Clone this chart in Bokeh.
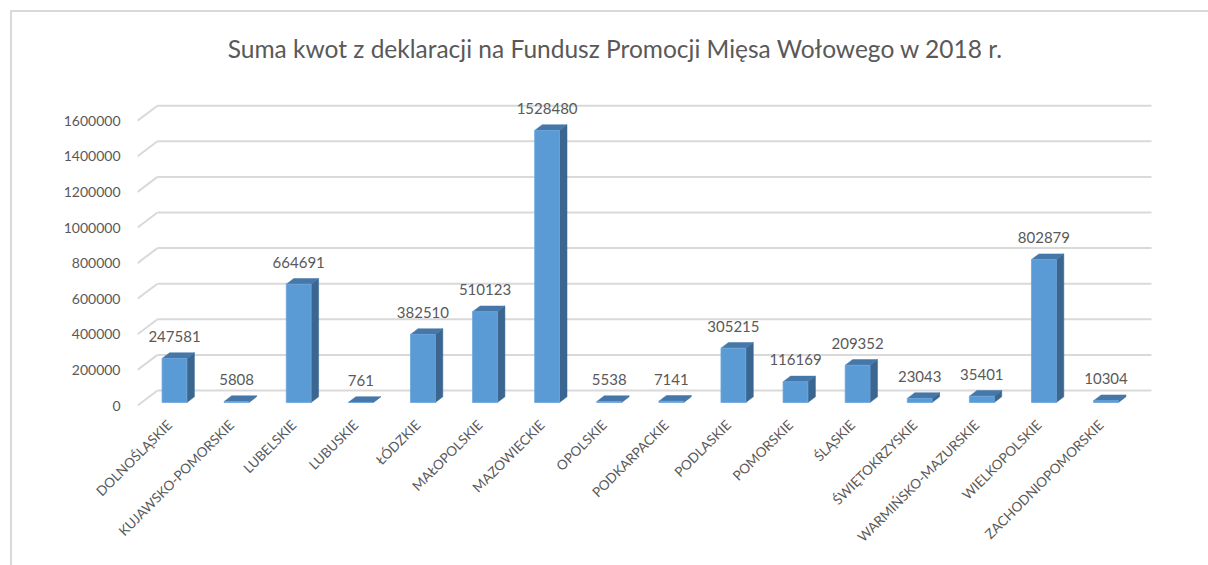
import numpy as np
from bokeh.plotting import figure
from bokeh.models import (Range1d, FixedTicker, ColumnDataSource, NumeralTickFormatter,
                          LinearAxis)
from bokeh.core.properties import value
from bokeh.embed import file_html
from bokeh.resources import INLINE

# ---------------- data ----------------
regions = ["DOLNOŚLĄSKIE", "KUJAWSKO-POMORSKIE", "LUBELSKIE", "LUBUSKIE", "ŁÓDZKIE",
           "MAŁOPOLSKIE", "MAZOWIECKIE", "OPOLSKIE", "PODKARPACKIE", "PODLASKIE",
           "POMORSKIE", "ŚLĄSKIE", "ŚWIĘTOKRZYSKIE", "WARMIŃSKO-MAZURSKIE",
           "WIELKOPOLSKIE", "ZACHODNIOPOMORSKIE"]
amounts = [247581, 5808, 664691, 761, 382510, 510123, 1528480, 5538, 7141, 305215,
           116169, 209352, 23043, 35401, 802879, 10304]
y_ticks = [0, 200000, 400000, 600000, 800000, 1000000, 1200000, 1400000, 1600000]
title_text = "Suma kwot z deklaracji na Fundusz Promocji Mięsa Wołowego w 2018 r."

# ---------------- geometry (page pixels) ----------------
WIN_W, WIN_H = 1208, 565
OX, OY = 12, 12                              # figure offset inside the page (chart border)
W, H = WIN_W - OX, WIN_H - OY                # figure size
FL, FR, FT, FB = 137, 1208, 12, 412          # frame edges (page)
PX_CAT = 62.1                                # pixels per category
CX0 = 174                                    # page x of first category centre
BASE_PX = 402                                # page y of value 0 (bar front)
PX_PER_UNIT = 35.6 / 200000
U = 1.0 / PX_PER_UNIT

x_start = -(CX0 - FL) / PX_CAT
x_end = x_start + (FR - FL) / PX_CAT
y_start = -(FB - BASE_PX) * U
y_end = (BASE_PX - FT) * U

def xpx(px):
    return x_start + (px - FL) / PX_CAT

def ypx(py):
    return (BASE_PX - py) * U

def ddx(px):
    return px / PX_CAT

def ddy(px):
    return px * U

TEXT = "#595959"
GRID = "#d9d9d9"
FRONT = "#5b9bd5"
SIDE = "#3a6690"
TOP = "#4577a8"
FONT = "Lato"

p = figure(width=W, height=H, output_backend="svg", toolbar_location=None,
           x_range=Range1d(x_start, x_end), y_range=Range1d(y_start, y_end),
           x_axis_location=None, y_axis_location=None,
           min_border_left=FL - OX, min_border_right=WIN_W - FR, min_border_top=FT - OY,
           min_border_bottom=WIN_H - FB)
p.margin = (OY, 0, 0, OX)
p.styles = {"outline": "2px solid #d9d9d9"}
p.outline_line_color = None
p.grid.visible = False
p.background_fill_color = "white"
p.border_fill_color = "white"

# label ranges: tick labels sit on the front edge of the floor (a few px lower / left)
p.extra_y_ranges = {"front": Range1d(y_start + ddy(3), y_end + ddy(3))}
p.extra_x_ranges = {"labels": Range1d(x_start + ddx(5), x_end + ddx(5))}

# ---------------- gridlines (back wall + floor diagonal) ----------------
yt = np.array(y_ticks, dtype=float)
back_up = ddy(12)
front_down = ddy(3)
p.segment(x0=[xpx(137)] * len(yt), y0=yt - front_down,
          x1=[xpx(157)] * len(yt), y1=yt + back_up, line_color=GRID, line_width=2)
p.segment(x0=[xpx(157)] * len(yt), y0=yt + back_up,
          x1=[xpx(1151)] * len(yt), y1=yt + back_up, line_color=GRID, line_width=2)

# ---------------- 3D bars ----------------
xs = np.arange(len(amounts), dtype=float)
vals = np.array(amounts, dtype=float)
hw = 0.2
dx = ddx(7.5)
dy = ddy(5.7)

side_xs = [[x + hw, x + hw + dx, x + hw + dx, x + hw] for x in xs]
side_ys = [[0, dy, v + dy, v] for v in vals]
top_xs = [[x - hw, x + hw, x + hw + dx, x - hw + dx] for x in xs]
top_ys = [[v, v, v + dy, v + dy] for v in vals]

p.patches(side_xs, side_ys, fill_color=SIDE, line_color=SIDE, line_width=0.5)
p.patches(top_xs, top_ys, fill_color=TOP, line_color=TOP, line_width=0.5)
p.quad(left=xs - hw, right=xs + hw, bottom=0, top=vals,
       fill_color=FRONT, line_color="#6aa6dc", line_width=0.8)

# value labels
src = ColumnDataSource(dict(x=xs, y=vals + ddy(22), t=[str(a) for a in amounts]))
p.text(x="x", y="y", text="t", source=src, text_align="center", text_baseline="middle",
       text_font=value(FONT), text_font_size="15px", text_color=TEXT)

# title
p.text(x=[xpx(615)], y=[ypx(48)], text=[title_text], text_align="center",
       text_baseline="middle", text_font=value(FONT), text_font_size="24.5px",
       text_color=TEXT)

# ---------------- axes ----------------
xaxis = LinearAxis(x_range_name="labels")
xaxis.ticker = FixedTicker(ticks=list(range(len(regions))))
xaxis.major_label_overrides = {i: r for i, r in enumerate(regions)}
xaxis.major_label_orientation = np.pi / 4
xaxis.major_label_standoff = 4
xaxis.axis_line_color = None
xaxis.major_tick_line_color = None
xaxis.minor_tick_line_color = None
xaxis.major_label_text_font = FONT
xaxis.major_label_text_font_size = "13.5px"
xaxis.major_label_text_color = TEXT
p.add_layout(xaxis, "below")

yaxis = LinearAxis(y_range_name="front")
yaxis.ticker = FixedTicker(ticks=y_ticks)
yaxis.formatter = NumeralTickFormatter(format="0")
yaxis.major_label_standoff = 11
yaxis.axis_line_color = None
yaxis.major_tick_line_color = None
yaxis.minor_tick_line_color = None
yaxis.major_label_text_font = FONT
yaxis.major_label_text_font_size = "14px"
yaxis.major_label_text_color = TEXT
p.add_layout(yaxis, "left")

open("out.html", "w").write(file_html(p, INLINE))
